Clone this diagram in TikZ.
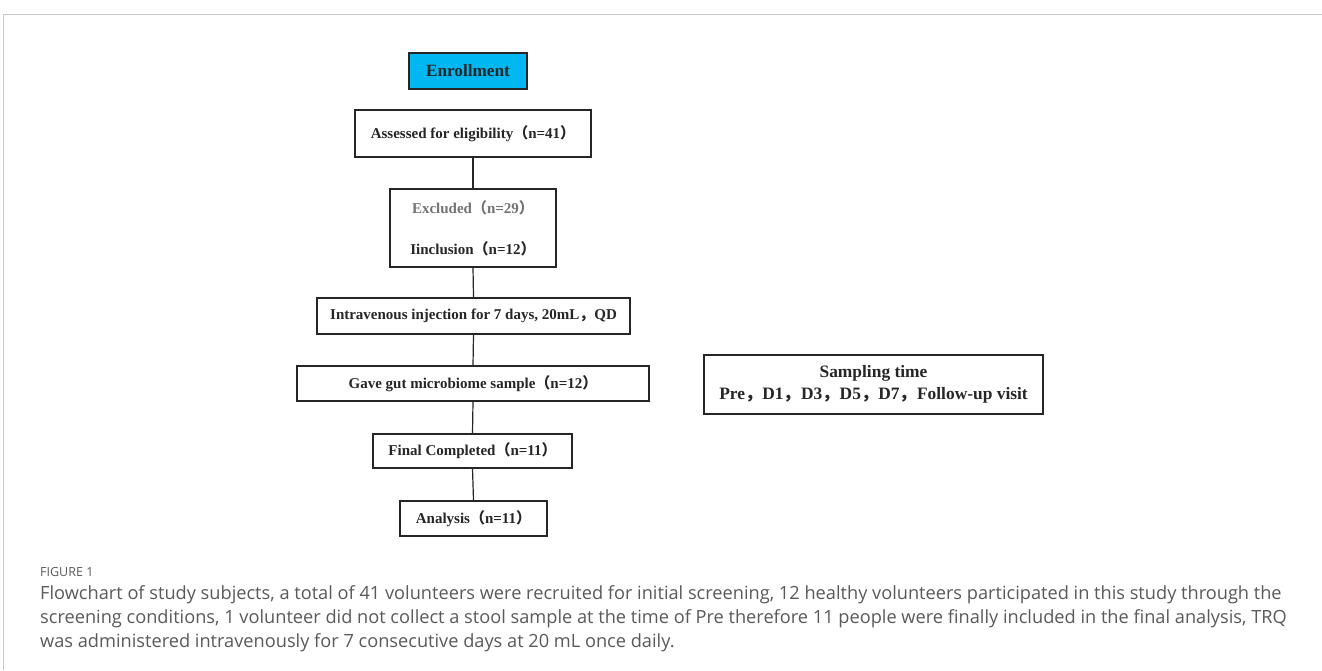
\documentclass[tikz,border=0pt]{standalone}
\usepackage{fontspec}
\setmainfont{Liberation Serif}
\newfontfamily\cjk{Noto Sans CJK SC}
\newfontfamily\capfont{Open Sans}
\newcommand{\lp}{{\cjk （}}
\newcommand{\rp}{{\cjk ）}}
\newcommand{\fc}{{\cjk ，}}
\definecolor{boxtext}{HTML}{262626}
\definecolor{enrollfill}{HTML}{00B7F1}
\definecolor{captext}{HTML}{5A5A5A}
\definecolor{framegray}{HTML}{C8C8C8}
\tikzset{
  box/.style={draw=black!85, line width=1.3pt, inner sep=0pt, font=\bfseries\fontsize{15}{17}\selectfont, text=boxtext},
  conn/.style={draw=black!85, line width=1.2pt},
  captionline/.style={anchor=base west, inner sep=0pt, text=captext, font=\capfont\fontsize{18.2}{21}\selectfont}
}
\begin{document}
\begin{tikzpicture}[x=1pt,y=-1pt]
\useasboundingbox[fill=white] (0,0) rectangle (1322,670);
\draw[framegray, line width=0.8pt] (3,670) -- (3,14) -- (1322,14);

\node[box, fill=enrollfill, minimum width=118pt, minimum height=36pt, font=\bfseries\fontsize{17.2}{19}\selectfont] (enroll) at (468,71) {Enrollment};
\node[box, minimum width=236pt, minimum height=47pt] (assess) at (473,133.5) {Assessed for eligibility\lp n=41\rp};
\node[box, minimum width=166pt, minimum height=78pt] (excl) at (473,228) {};
\node[anchor=center, text=black!55, font=\bfseries\fontsize{15}{17}\selectfont] (exclt) at (473,208) {Excluded\lp n=29\rp};
\node[anchor=center, text=boxtext, font=\bfseries\fontsize{15}{17}\selectfont] (inclt) at (473,249) {Iinclusion\lp n=12\rp};
\node[box, minimum width=313pt, minimum height=36pt] (iv) at (473.5,316) {Intravenous injection for 7 days, 20mL\fc QD};
\node[box, minimum width=352pt, minimum height=35pt] (gut) at (473,383.5) {Gave gut microbiome sample\lp n=12\rp};
\node[box, minimum width=199pt, minimum height=34pt] (final) at (472.5,451) {Final Completed\lp n=11\rp};
\node[box, minimum width=147pt, minimum height=35pt] (anal) at (473.5,518.5) {Analysis\lp n=11\rp};
\node[box, minimum width=339pt, minimum height=59pt, align=center, font=\bfseries\fontsize{17.4}{21.5}\selectfont] (samp) at (873.5,384.5) {Sampling time\\Pre\fc D1\fc D3\fc D5\fc D7\fc Follow-up visit};

\draw[conn] (assess.south) -- (excl.north);
\draw[conn] (excl.south) -- (iv.north);
\draw[conn] (iv.south) -- (gut.north);
\draw[conn] (gut.south) -- (final.north);
\draw[conn] (final.south) -- (anal.north);

\node[anchor=base west, inner sep=0pt, text=captext, font=\capfont\fontsize{12.5}{14}\selectfont] (fig) at (40,576) {FIGURE 1};
\node[captionline] (c1) at (40,599) {Flowchart of study subjects, a total of 41 volunteers were recruited for initial screening, 12 healthy volunteers participated in this study through the};
\node[captionline] (c2) at (40,623) {screening conditions, 1 volunteer did not collect a stool sample at the time of Pre therefore 11 people were finally included in the final analysis, TRQ};
\node[captionline] (c3) at (40,647) {was administered intravenously for 7 consecutive days at 20 mL once daily.};
\end{tikzpicture}
\end{document}
